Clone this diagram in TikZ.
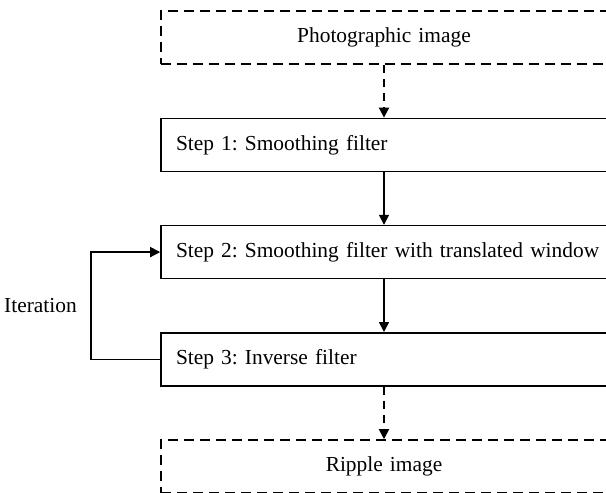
\documentclass[tikz,border=0pt]{standalone}
\usepackage{fontspec}
\setmainfont{Liberation Serif}
\usetikzlibrary{positioning,arrows.meta}

\begin{document}
\begin{tikzpicture}[x=0.5pt,y=-0.5pt,
   font=\fontsize{10.7}{13}\selectfont\frenchspacing,
   node distance=26.3pt,
   stepbox/.style={draw,line width=0.8pt,minimum height=26.5pt,
      inner xsep=7.5pt,text width=208pt,align=left},
   iobox/.style={stepbox,line width=1pt,dash pattern=on 5pt off 3pt,align=center},
   flow/.style={line width=0.8pt,-{Triangle[length=5pt,width=5pt]}},
   dflow/.style={flow,line width=0.9pt,dash pattern=on 4pt off 3pt}]
\useasboundingbox (0,0) rectangle (606,493);
\node[iobox] (photo) at (384,37.5) {Photographic image};
\node[stepbox,below=of photo] (step1) {Step 1: Smoothing filter};
\node[stepbox,below=of step1] (step2) {\mbox{Step 2: Smoothing filter with translated window}};
\node[stepbox,below=of step2] (step3) {Step 3: Inverse filter};
\node[iobox,below=of step3] (ripple) {Ripple image};
\draw[dflow] (photo) -- (step1);
\draw[flow] (step1) -- (step2);
\draw[flow] (step2) -- (step3);
\draw[dflow] (step3) -- (ripple);
\draw[flow] (step3.west) -- ++(-69,0) |- node[pos=0.25,left=3.5pt] (iter) {Iteration} (step2.west);
\end{tikzpicture}
\end{document}
